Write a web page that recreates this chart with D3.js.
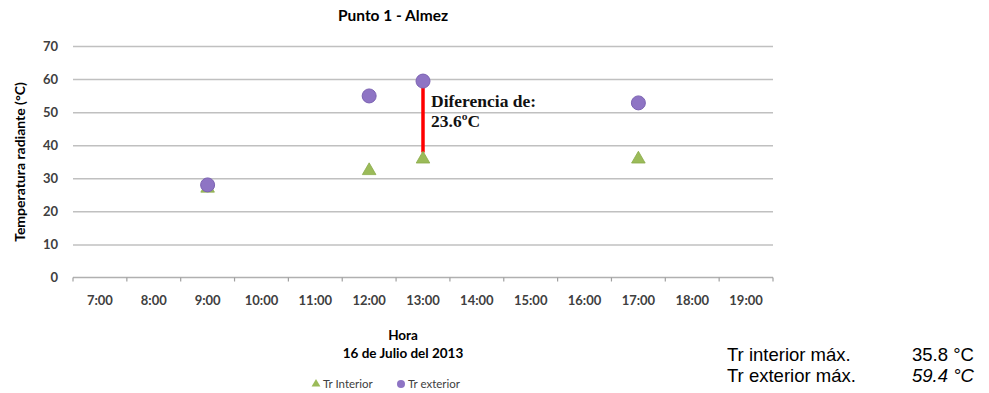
<!DOCTYPE html>
<html lang="es">
<head>
  <meta charset="UTF-8">
  <title>Punto 1 - Almez</title>
  <script src="https://d3js.org/d3.v7.min.js"></script>
  <style>
    body { margin: 0; background: #fff; }
    svg { display: block; }
    .chart text { font-family: Lato, "Open Sans", sans-serif; }
    .ytick text, .xtick text { fill: #404040; font-size: 13px; font-weight: bold; }
    .chart text.note { font-family: "Liberation Sans", Arial, sans-serif; font-size: 18.5px; fill: #000; }
  </style>
</head>
<body>
  <svg id="chart" class="chart" width="989" height="393"></svg>

  <script>
    // categories on the x axis
    const hours = ["7:00", "8:00", "9:00", "10:00", "11:00", "12:00", "13:00",
                   "14:00", "15:00", "16:00", "17:00", "18:00", "19:00"];
    // measurement times and values (°C)
    const measureHours = ["9:00", "12:00", "13:00", "17:00"];
    const trInterior = [27.0, 32.3, 35.8, 35.8];
    const trExterior = [28.0, 54.9, 59.4, 52.8];
    // difference marker at 13:00
    const diffHour = "13:00";
    const diffRange = [57.4, 37.8];
    const yTicks = [0, 10, 20, 30, 40, 50, 60, 70];

    const width = 989, height = 393;
    const margin = { top: 46, right: 216, bottom: 115.5, left: 73 };
    const plotW = width - margin.left - margin.right;
    const plotH = height - margin.top - margin.bottom;

    const svg = d3.select("#chart");
    const g = svg.append("g").attr("transform", `translate(${margin.left},${margin.top})`);

    const x = d3.scaleBand().domain(hours).range([0, plotW]).padding(0);
    const y = d3.scaleLinear().domain([0, 70]).range([plotH, 0]);

    // gridlines + y labels
    const yAxis = g.append("g")
      .attr("class", "ytick")
      .call(d3.axisLeft(y).tickValues(yTicks).tickSize(-plotW).tickPadding(15));
    yAxis.select(".domain").remove();
    yAxis.selectAll("line")
      .attr("stroke", "#c0c0c0")
      .attr("stroke-width", 1.5)
      .attr("stroke-opacity", d => d === 0 ? 0 : 1);

    // x axis line with boundary ticks
    g.append("line")
      .attr("x1", 0).attr("x2", plotW)
      .attr("y1", plotH).attr("y2", plotH)
      .attr("stroke", "#b0b0b0").attr("stroke-width", 1.5);
    const bounds = hours.map(h => x(h)).concat([plotW]);
    g.append("g").selectAll("line")
      .data(bounds)
      .join("line")
      .attr("x1", d => d).attr("x2", d => d)
      .attr("y1", plotH).attr("y2", plotH + 4)
      .attr("stroke", "#a0a0a0").attr("stroke-width", 1.2);

    const xAxis = g.append("g")
      .attr("class", "xtick")
      .attr("transform", `translate(0,${plotH})`)
      .call(d3.axisBottom(x).tickSize(0).tickPadding(18));
    xAxis.select(".domain").remove();

    // title
    svg.append("text")
      .attr("x", 393).attr("y", 21)
      .attr("text-anchor", "middle")
      .style("font-size", "15.5px").style("font-weight", "bold")
      .text("Punto 1 - Almez");

    // y axis title
    svg.append("text")
      .attr("transform", "translate(25,162) rotate(-90)")
      .attr("text-anchor", "middle")
      .style("font-size", "14px").style("font-weight", "bold")
      .text("Temperatura radiante (°C)");

    // x axis titles
    svg.append("text")
      .attr("x", 403).attr("y", 340)
      .attr("text-anchor", "middle")
      .style("font-size", "13.5px").style("font-weight", "bold")
      .text("Hora");
    svg.append("text")
      .attr("x", 403).attr("y", 358)
      .attr("text-anchor", "middle")
      .style("font-size", "13.5px").style("font-weight", "bold")
      .text("16 de Julio del 2013");

    // difference line
    g.append("line")
      .attr("x1", x(diffHour) + x.bandwidth() / 2)
      .attr("x2", x(diffHour) + x.bandwidth() / 2)
      .attr("y1", y(diffRange[0])).attr("y2", y(diffRange[1]))
      .attr("stroke", "#ff0000").attr("stroke-width", 3.5);

    const cx = h => x(h) + x.bandwidth() / 2;
    const tri = d3.symbol().type(d3.symbolTriangle).size(80);

    // interior (triangles)
    g.append("g").selectAll("path")
      .data(measureHours.map((h, i) => ({ h, v: trInterior[i] })))
      .join("path")
      .attr("d", tri)
      .attr("transform", d => `translate(${cx(d.h)},${y(d.v)})`)
      .attr("fill", "#9bbb59")
      .attr("stroke", "#8aab4a").attr("stroke-width", 0.8);

    // exterior (circles)
    g.append("g").selectAll("circle")
      .data(measureHours.map((h, i) => ({ h, v: trExterior[i] })))
      .join("circle")
      .attr("cx", d => cx(d.h))
      .attr("cy", d => y(d.v))
      .attr("r", 7)
      .attr("fill", "#8e74c4")
      .attr("stroke", "#7b62b2").attr("stroke-width", 1);

    // annotation
    const ann = svg.append("text")
      .style("font-family", "'Liberation Serif', 'Times New Roman', serif")
      .style("font-size", "17.5px").style("font-weight", "bold")
      .attr("fill", "#111");
    ann.append("tspan").attr("x", 431).attr("y", 107).text("Diferencia de:");
    ann.append("tspan").attr("x", 431).attr("y", 127).text("23.6ºC");

    // legend
    const leg = svg.append("g").style("font-size", "11.5px").attr("fill", "#404040");
    leg.append("path")
      .attr("d", d3.symbol().type(d3.symbolTriangle).size(34))
      .attr("transform", "translate(316,384)")
      .attr("fill", "#9bbb59");
    leg.append("text").attr("x", 323).attr("y", 388).text("Tr Interior");
    leg.append("circle")
      .attr("cx", 401).attr("cy", 384).attr("r", 4)
      .attr("fill", "#8e74c4");
    leg.append("text").attr("x", 408).attr("y", 388).text("Tr exterior");

    // side notes
    const notes = [
      { label: "Tr interior máx.", value: "35.8 °C", italic: false, yy: 361 },
      { label: "Tr exterior máx.", value: "59.4 °C", italic: true, yy: 382 }
    ];
    notes.forEach(n => {
      svg.append("text").attr("class", "note").attr("x", 727).attr("y", n.yy).text(n.label);
      svg.append("text").attr("class", "note").attr("x", 912).attr("y", n.yy)
        .style("font-style", n.italic ? "italic" : "normal")
        .text(n.value);
    });
  </script>
</body>
</html>
